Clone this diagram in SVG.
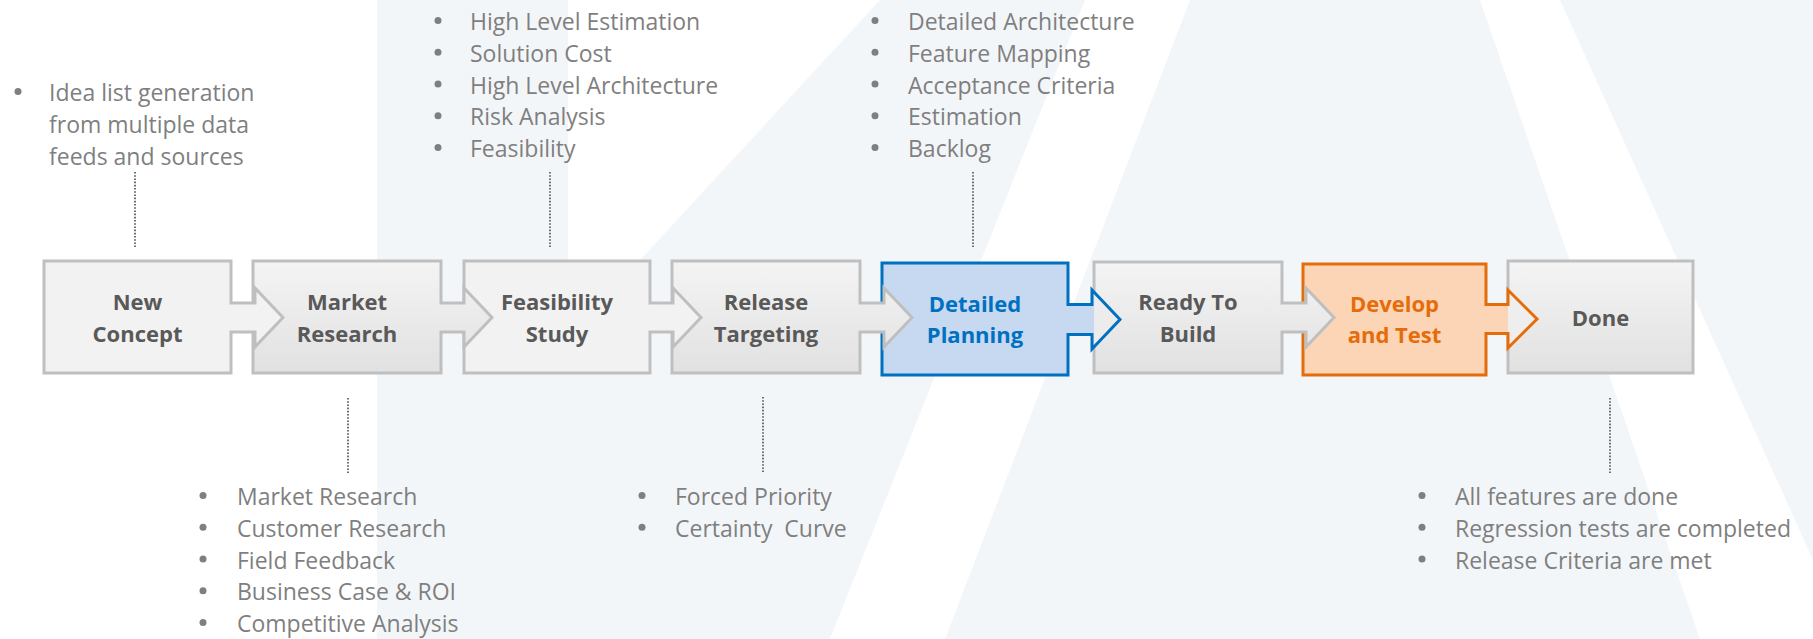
<svg xmlns="http://www.w3.org/2000/svg" width="1813" height="639" viewBox="0 0 1813 639">
  <defs>
    <linearGradient id="greyFill" x1="0" y1="0" x2="0" y2="1">
      <stop offset="0" stop-color="#f4f4f4"/>
      <stop offset="1" stop-color="#e1e1e1"/>
    </linearGradient>
    <!-- highlighted stages: own colour up to the next box, grey on the overlapping arrowhead -->
    <linearGradient id="blueFill" gradientUnits="userSpaceOnUse" x1="0" y1="0" x2="1813" y2="0">
      <stop offset="0.6036" stop-color="#c6d9f0"/>
      <stop offset="0.6037" stop-color="#ececec"/>
    </linearGradient>
    <linearGradient id="orangeFill" gradientUnits="userSpaceOnUse" x1="0" y1="0" x2="1813" y2="0">
      <stop offset="0.8317" stop-color="#fbd5b5"/>
      <stop offset="0.8318" stop-color="#eeeeee"/>
    </linearGradient>
    <style>
      .stage { stroke: #bfbfbf; stroke-width: 3; fill: url(#greyFill); }
      .stage.flat { fill: #f2f2f2; }
      .stage.blue { stroke: #0070c0; fill: url(#blueFill); }
      .stage.orange { stroke: #e46c0a; fill: url(#orangeFill); }
      .label { font-family: "Open Sans", "Liberation Sans", sans-serif; font-weight: bold; font-size: 22px; fill: #595959; text-anchor: middle; }
      .label.blue { fill: #0070c0; }
      .label.orange { fill: #e46c0a; }
      .note { font-family: "Open Sans", "Liberation Sans", sans-serif; font-size: 23px; fill: #7f7f7f; }
      .dot { fill: #7f7f7f; }
      .lead { stroke: #6f6f6f; stroke-width: 2; stroke-dasharray: 1.6 1.6; fill: none; }
      .wash { fill: #ffffff; }
    </style>
  </defs>

  <!-- background watermark -->
  <g id="background">
    <rect width="1813" height="639" fill="#f3f6f9"/>
    <rect class="wash" width="377" height="639"/>
    <polygon class="wash" points="568,0 880,0 640,260 568,260"/>
    <polygon class="wash" points="1085,0 1190,0 945,639 830,639"/>
    <polygon class="wash" points="1480,0 1560,0 1813,560 1813,639 1700,639"/>
  </g>

  <!-- connectors: dotted leaders from stages to their notes -->
  <g id="connectors">
    <line class="lead" x1="135" y1="172" x2="135" y2="247"/>
    <line class="lead" x1="550" y1="172" x2="550" y2="247"/>
    <line class="lead" x1="973" y1="172" x2="973" y2="247"/>
    <line class="lead" x1="348" y1="398" x2="348" y2="473"/>
    <line class="lead" x1="763" y1="397" x2="763" y2="472"/>
    <line class="lead" x1="1610" y1="398" x2="1610" y2="473"/>
  </g>

  <!-- stages, drawn last-to-first so each arrowhead overlaps the following box -->
  <g id="stage-done">
    <rect class="stage" x="1508" y="261" width="185" height="112"/>
    <text class="label" x="1600.5" y="326">Done</text>
  </g>
  <g id="stage-develop-test">
    <path class="stage orange" d="M1303 264 H1486 V304.5 H1508 V290 L1537 319 L1508 348 V333.5 H1486 V375 H1303 Z"/>
    <text class="label orange" x="1394.5" y="312">Develop</text>
    <text class="label orange" x="1394.5" y="343">and Test</text>
  </g>
  <g id="stage-ready-to-build">
    <path class="stage" d="M1094 262 H1282 V303 H1306 V288 L1334 317.5 L1306 347 V332 H1282 V373 H1094 Z"/>
    <text class="label" x="1188" y="310">Ready To</text>
    <text class="label" x="1188" y="342">Build</text>
  </g>
  <g id="stage-detailed-planning">
    <path class="stage blue" d="M882 263 H1068 V304.5 H1092 V290 L1120 319.5 L1092 349 V334.5 H1068 V375 H882 Z"/>
    <text class="label blue" x="975" y="312">Detailed</text>
    <text class="label blue" x="975" y="343">Planning</text>
  </g>
  <g id="stage-release-targeting">
    <path class="stage" d="M672 261 H860 V303 H884 V288 L912 317.5 L884 347 V332 H860 V373 H672 Z"/>
    <text class="label" x="766" y="310">Release</text>
    <text class="label" x="766" y="342">Targeting</text>
  </g>
  <g id="stage-feasibility-study">
    <path class="stage flat" d="M464 261 H650 V303 H673 V288 L701 317.5 L673 347 V332 H650 V373 H464 Z"/>
    <text class="label" x="557" y="310">Feasibility</text>
    <text class="label" x="557" y="342">Study</text>
  </g>
  <g id="stage-market-research">
    <path class="stage" d="M253 261 H441 V303 H464 V288 L492 317.5 L464 347 V332 H441 V373 H253 Z"/>
    <text class="label" x="347" y="310">Market</text>
    <text class="label" x="347" y="342">Research</text>
  </g>
  <g id="stage-new-concept">
    <path class="stage flat" d="M44 261 H231 V303 H255 V288 L283 317.5 L255 347 V332 H231 V373 H44 Z"/>
    <text class="label" x="137.5" y="310">New</text>
    <text class="label" x="137.5" y="342">Concept</text>
  </g>

  <!-- notes -->
  <g id="notes-new-concept">
    <circle class="dot" cx="18" cy="91.5" r="3.5"/>
    <text class="note" x="49" y="101">Idea list generation</text>
    <text class="note" x="49" y="133">from multiple data</text>
    <text class="note" x="49" y="165">feeds and sources</text>
  </g>
  <g id="notes-feasibility-study">
    <circle class="dot" cx="438" cy="20.5" r="3.5"/>
    <circle class="dot" cx="438" cy="52.25" r="3.5"/>
    <circle class="dot" cx="438" cy="84" r="3.5"/>
    <circle class="dot" cx="438" cy="115.75" r="3.5"/>
    <circle class="dot" cx="438" cy="147.5" r="3.5"/>
    <text class="note" x="470" y="30">High Level Estimation</text>
    <text class="note" x="470" y="61.75">Solution Cost</text>
    <text class="note" x="470" y="93.5">High Level Architecture</text>
    <text class="note" x="470" y="125.25">Risk Analysis</text>
    <text class="note" x="470" y="157">Feasibility</text>
  </g>
  <g id="notes-detailed-planning">
    <circle class="dot" cx="875" cy="20.5" r="3.5"/>
    <circle class="dot" cx="875" cy="52.25" r="3.5"/>
    <circle class="dot" cx="875" cy="84" r="3.5"/>
    <circle class="dot" cx="875" cy="115.75" r="3.5"/>
    <circle class="dot" cx="875" cy="147.5" r="3.5"/>
    <text class="note" x="908" y="30">Detailed Architecture</text>
    <text class="note" x="908" y="61.75">Feature Mapping</text>
    <text class="note" x="908" y="93.5">Acceptance Criteria</text>
    <text class="note" x="908" y="125.25">Estimation</text>
    <text class="note" x="908" y="157">Backlog</text>
  </g>
  <g id="notes-market-research">
    <circle class="dot" cx="203" cy="495.5" r="3.5"/>
    <circle class="dot" cx="203" cy="527.25" r="3.5"/>
    <circle class="dot" cx="203" cy="559" r="3.5"/>
    <circle class="dot" cx="203" cy="590.75" r="3.5"/>
    <circle class="dot" cx="203" cy="622.5" r="3.5"/>
    <text class="note" x="237" y="505">Market Research</text>
    <text class="note" x="237" y="536.75">Customer Research</text>
    <text class="note" x="237" y="568.5">Field Feedback</text>
    <text class="note" x="237" y="600.25">Business Case &amp; ROI</text>
    <text class="note" x="237" y="632">Competitive Analysis</text>
  </g>
  <g id="notes-release-targeting">
    <circle class="dot" cx="642" cy="495.5" r="3.5"/>
    <circle class="dot" cx="642" cy="527.25" r="3.5"/>
    <text class="note" x="675" y="505">Forced Priority</text>
    <text class="note" x="675" y="536.75" xml:space="preserve">Certainty  Curve</text>
  </g>
  <g id="notes-done">
    <circle class="dot" cx="1422" cy="495.5" r="3.5"/>
    <circle class="dot" cx="1422" cy="527.25" r="3.5"/>
    <circle class="dot" cx="1422" cy="559" r="3.5"/>
    <text class="note" x="1455" y="505">All features are done</text>
    <text class="note" x="1455" y="536.75">Regression tests are completed</text>
    <text class="note" x="1455" y="568.5">Release Criteria are met</text>
  </g>
</svg>
